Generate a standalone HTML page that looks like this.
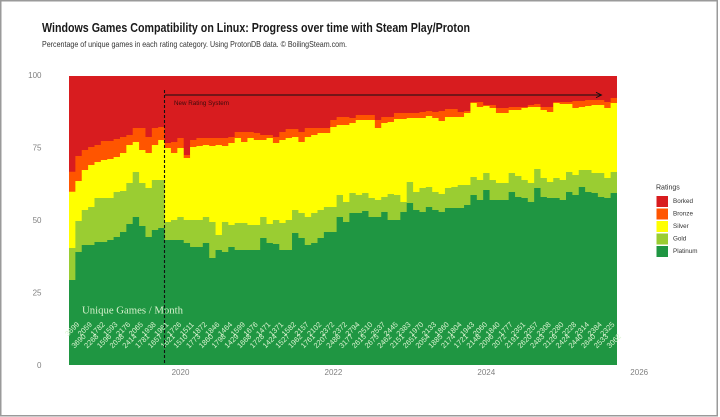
<!DOCTYPE html>
<html><head><meta charset="utf-8"><style>
html,body{margin:0;padding:0;background:#fff;}
svg{display:block;}
text{font-family:"Liberation Sans",Arial,sans-serif;}
</style></head><body>
<svg width="720" height="417" viewBox="0 0 720 417" xmlns="http://www.w3.org/2000/svg">
<rect x="0" y="0" width="720" height="417" fill="#fff"/>
<rect x="0.75" y="0.75" width="716.5" height="415" fill="none" stroke="#9a9a9a" stroke-width="1.5"/>

<text x="42" y="32" font-size="12.5" font-weight="bold" fill="#1a1a1a" textLength="428" lengthAdjust="spacingAndGlyphs">Windows Games Compatibility on Linux: Progress over time with Steam Play/Proton</text>
<text x="42" y="47" font-size="8.5" fill="#333" textLength="305" lengthAdjust="spacingAndGlyphs">Percentage of unique games in each rating category. Using ProtonDB data. © BoilingSteam.com.</text>

<g font-size="8" fill="#808080" text-anchor="end" dominant-baseline="central">
<text x="41.5" y="75.5">100</text>
<text x="41.5" y="148">75</text>
<text x="41.5" y="220.5">50</text>
<text x="41.5" y="293">25</text>
<text x="41.5" y="365.5">0</text>
</g>
<g font-size="8" fill="#808080" text-anchor="middle" dominant-baseline="central">
<text x="180.5" y="372.5">2020</text>
<text x="333.4" y="372.5">2022</text>
<text x="486.3" y="372.5">2024</text>
<text x="639.2" y="372.5">2026</text>
</g>

<g transform="translate(69,0) scale(6.372,1)">
<rect x="0" y="76" width="86" height="289" fill="#d81c1f"/>
<path fill="#ff5500" d="M0,365V171.7H1V156H2V150H3V147H4V145H5V141H6V141H7V139H8V137H9V135H10V128H11V128H12V137H13V128H14V127H15V143H16V142H17V138H18V155H19V140H20V138H21V138H22V138H23V138H24V138H25V137H26V132H27V132H28V132H29V133H30V135H31V135H32V137H33V132H34V129H35V129H36V132H37V128H38V128H39V128H40V128H41V120H42V117H43V117H44V118H45V115H46V115H47V115H48V120H49V117H50V117H51V113H52V113H53V113H54V113H55V112H56V111H57V112H58V111H59V109H60V109H61V112H62V111H63V102H64V102H65V105H66V105H67V108H68V108H69V107H70V107H71V107H72V105H73V104H74V107H75V107H76V102H77V102H78V102H79V101H80V101H81V100H82V100H83V100H84V102H85V98H86V365Z"/>
<path fill="#ffff00" d="M0,365V191.7H1V181H2V170H3V165H4V162H5V160H6V159H7V157H8V153H9V145H10V142H11V150H12V153H13V145H14V140H15V148H16V153H17V148H18V158H19V147H20V146H21V145H22V146H23V145H24V146H25V143H26V138H27V142H28V138H29V140H30V140H31V138H32V143H33V140H34V138H35V137H36V142H37V137H38V135H39V133H40V133H41V127H42V125H43V125H44V123H45V120H46V120H47V120H48V128H49V123H50V122H51V119H52V119H53V118H54V118H55V118H56V116H57V118H58V121H59V117H60V117H61V117H62V113H63V103H64V107H65V106H66V108H67V113H68V113H69V110H70V110H71V108H72V107H73V107H74V110H75V112H76V103H77V104H78V104H79V108H80V107H81V106H82V105H83V105H84V108H85V103H86V365Z"/>
<path fill="#9acd32" d="M0,365V248H1V221H2V210H3V207H4V198H5V198H6V198H7V192H8V191H9V183H10V172H11V183H12V188H13V180H14V180H15V222H16V220H17V217H18V220H19V220H20V220H21V217H22V222H23V235H24V222H25V225H26V223H27V223H28V225H29V225H30V217H31V224H32V220H33V223H34V220H35V210H36V213H37V217H38V213H39V210H40V207H41V207H42V195H43V202H44V193H45V195H46V193H47V198H48V200H49V197H50V194H51V195H52V202H53V182H54V192H55V188H56V187H57V192H58V194H59V188H60V187H61V185H62V185H63V177H64V180H65V173H66V180H67V183H68V183H69V173H70V176H71V180H72V183H73V169H74V178H75V182H76V178H77V180H78V172H79V175H80V170H81V170H82V173H83V173H84V178H85V172H86V365Z"/>
<path fill="#1f9642" d="M0,365V280H1V252H2V245H3V245H4V242H5V242H6V240H7V237H8V232H9V224H10V217H11V226H12V237H13V230H14V228H15V240H16V240H17V240H18V243H19V247H20V247H21V243H22V258H23V250H24V252H25V247H26V250H27V250H28V250H29V250H30V238H31V243H32V244H33V250H34V250H35V233H36V238H37V245H38V243H39V238H40V232H41V232H42V217H43V222H44V213H45V213H46V211H47V217H48V217H49V212H50V220H51V220H52V212H53V203H54V210H55V212H56V207H57V210H58V212H59V208H60V208H61V208H62V205H63V195H64V200H65V190H66V200H67V200H68V200H69V192H70V197H71V198H72V202H73V188H74V197H75V198H76V198H77V200H78V192H79V195H80V187H81V192H82V193H83V197H84V198H85V193H86V365Z"/>
</g>

<text x="82" y="313.5" font-family="'Liberation Serif',serif" font-size="10.5" fill="#d6f0cc" textLength="101" lengthAdjust="spacingAndGlyphs" style="font-family:'Liberation Serif',serif">Unique Games / Month</text>

<g font-size="7.5" fill="#d9f2cf" text-anchor="middle" dominant-baseline="central">
<text transform="translate(72.2,329) rotate(-45)">3699</text>
<text transform="translate(78.6,341) rotate(-45)">3690</text>
<text transform="translate(84.9,329) rotate(-45)">2059</text>
<text transform="translate(91.3,341) rotate(-45)">2268</text>
<text transform="translate(97.7,329) rotate(-45)">1782</text>
<text transform="translate(104.1,341) rotate(-45)">1596</text>
<text transform="translate(110.4,329) rotate(-45)">1593</text>
<text transform="translate(116.8,341) rotate(-45)">2038</text>
<text transform="translate(123.2,329) rotate(-45)">2176</text>
<text transform="translate(129.5,341) rotate(-45)">2414</text>
<text transform="translate(135.9,329) rotate(-45)">2065</text>
<text transform="translate(142.3,341) rotate(-45)">1781</text>
<text transform="translate(148.7,329) rotate(-45)">1938</text>
<text transform="translate(155.0,341) rotate(-45)">1657</text>
<text transform="translate(161.4,329) rotate(-45)">1961</text>
<text transform="translate(167.8,341) rotate(-45)">1621</text>
<text transform="translate(174.1,329) rotate(-45)">1726</text>
<text transform="translate(180.5,341) rotate(-45)">1510</text>
<text transform="translate(186.9,329) rotate(-45)">1511</text>
<text transform="translate(193.3,341) rotate(-45)">1773</text>
<text transform="translate(199.6,329) rotate(-45)">1872</text>
<text transform="translate(206.0,341) rotate(-45)">1860</text>
<text transform="translate(212.4,329) rotate(-45)">1846</text>
<text transform="translate(218.7,341) rotate(-45)">1798</text>
<text transform="translate(225.1,329) rotate(-45)">1464</text>
<text transform="translate(231.5,341) rotate(-45)">1429</text>
<text transform="translate(237.9,329) rotate(-45)">1599</text>
<text transform="translate(244.2,341) rotate(-45)">1668</text>
<text transform="translate(250.6,329) rotate(-45)">1676</text>
<text transform="translate(257.0,341) rotate(-45)">1728</text>
<text transform="translate(263.3,329) rotate(-45)">1471</text>
<text transform="translate(269.7,341) rotate(-45)">1424</text>
<text transform="translate(276.1,329) rotate(-45)">1371</text>
<text transform="translate(282.5,341) rotate(-45)">1527</text>
<text transform="translate(288.8,329) rotate(-45)">1582</text>
<text transform="translate(295.2,341) rotate(-45)">1962</text>
<text transform="translate(301.6,329) rotate(-45)">2157</text>
<text transform="translate(307.9,341) rotate(-45)">1761</text>
<text transform="translate(314.3,329) rotate(-45)">2102</text>
<text transform="translate(320.7,341) rotate(-45)">2207</text>
<text transform="translate(327.1,329) rotate(-45)">2372</text>
<text transform="translate(333.4,341) rotate(-45)">2486</text>
<text transform="translate(339.8,329) rotate(-45)">2372</text>
<text transform="translate(346.2,341) rotate(-45)">3177</text>
<text transform="translate(352.5,329) rotate(-45)">2794</text>
<text transform="translate(358.9,341) rotate(-45)">2615</text>
<text transform="translate(365.3,329) rotate(-45)">2510</text>
<text transform="translate(371.7,341) rotate(-45)">2675</text>
<text transform="translate(378.0,329) rotate(-45)">2537</text>
<text transform="translate(384.4,341) rotate(-45)">2462</text>
<text transform="translate(390.8,329) rotate(-45)">2445</text>
<text transform="translate(397.1,341) rotate(-45)">2151</text>
<text transform="translate(403.5,329) rotate(-45)">2383</text>
<text transform="translate(409.9,341) rotate(-45)">2651</text>
<text transform="translate(416.3,329) rotate(-45)">1970</text>
<text transform="translate(422.6,341) rotate(-45)">2054</text>
<text transform="translate(429.0,329) rotate(-45)">2133</text>
<text transform="translate(435.4,341) rotate(-45)">1885</text>
<text transform="translate(441.8,329) rotate(-45)">1860</text>
<text transform="translate(448.1,341) rotate(-45)">2174</text>
<text transform="translate(454.5,329) rotate(-45)">1804</text>
<text transform="translate(460.9,341) rotate(-45)">1721</text>
<text transform="translate(467.2,329) rotate(-45)">1943</text>
<text transform="translate(473.6,341) rotate(-45)">2148</text>
<text transform="translate(480.0,329) rotate(-45)">2060</text>
<text transform="translate(486.4,341) rotate(-45)">2096</text>
<text transform="translate(492.7,329) rotate(-45)">1840</text>
<text transform="translate(499.1,341) rotate(-45)">2072</text>
<text transform="translate(505.5,329) rotate(-45)">1777</text>
<text transform="translate(511.8,341) rotate(-45)">2191</text>
<text transform="translate(518.2,329) rotate(-45)">2351</text>
<text transform="translate(524.6,341) rotate(-45)">2620</text>
<text transform="translate(531.0,329) rotate(-45)">2257</text>
<text transform="translate(537.3,341) rotate(-45)">2483</text>
<text transform="translate(543.7,329) rotate(-45)">2308</text>
<text transform="translate(550.1,341) rotate(-45)">2126</text>
<text transform="translate(556.4,329) rotate(-45)">2280</text>
<text transform="translate(562.8,341) rotate(-45)">2424</text>
<text transform="translate(569.2,329) rotate(-45)">2228</text>
<text transform="translate(575.6,341) rotate(-45)">2440</text>
<text transform="translate(581.9,329) rotate(-45)">2314</text>
<text transform="translate(588.3,341) rotate(-45)">2640</text>
<text transform="translate(594.7,329) rotate(-45)">2384</text>
<text transform="translate(601.0,341) rotate(-45)">2533</text>
<text transform="translate(607.4,329) rotate(-45)">2325</text>
<text transform="translate(613.8,341) rotate(-45)">3062</text>
</g>

<line x1="164.5" y1="90" x2="164.5" y2="365" stroke="#111" stroke-width="1.1" stroke-dasharray="3,2"/>
<line x1="165" y1="95" x2="601" y2="95" stroke="#111" stroke-width="0.9"/>
<path d="M596,92.3 L601.5,95 L596,97.7" fill="none" stroke="#111" stroke-width="0.9"/>
<text x="174" y="105" font-size="6.3" fill="#3a0c0c" textLength="55" lengthAdjust="spacingAndGlyphs">New Rating System</text>

<text x="656" y="189.5" font-size="7" fill="#333">Ratings</text>
<rect x="656.5" y="196" width="11.5" height="11" fill="#d81c1f"/>
<rect x="656.5" y="208.5" width="11.5" height="11" fill="#ff5500"/>
<rect x="656.5" y="221" width="11.5" height="11" fill="#ffff00"/>
<rect x="656.5" y="233.5" width="11.5" height="11" fill="#9acd32"/>
<rect x="656.5" y="246" width="11.5" height="11" fill="#1f9642"/>
<g font-size="6.3" fill="#333" dominant-baseline="central">
<text x="673" y="201.5">Borked</text>
<text x="673" y="214">Bronze</text>
<text x="673" y="226.5">Silver</text>
<text x="673" y="239">Gold</text>
<text x="673" y="251.5">Platinum</text>
</g>
</svg>
</body></html>
